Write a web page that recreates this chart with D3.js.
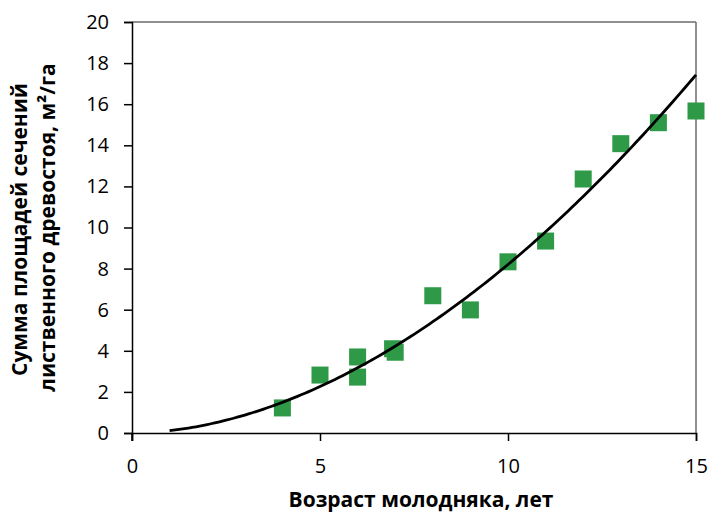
<!DOCTYPE html>
<html lang="ru">

<head>
    <meta charset="UTF-8">
    <title>Сумма площадей сечений</title>
    <script src="https://d3js.org/d3.v7.min.js"></script>
    <style>
        body {
            margin: 0;
            background: #fff;
            font-family: "Open Sans", sans-serif;
        }

        .tick text {
            font-size: 20px;
            fill: #000;
        }

        .axis-label {
            font-size: 21px;
            font-weight: bold;
        }
    </style>
</head>

<body>
    <div id="grafico"></div>

    <script>
        // возраст (лет) и сумма площадей сечений (м2/га)
        const vozrast = [4, 5, 6, 6, 6.93, 7, 8, 9, 10, 11, 12, 13, 14, 15];
        const summa = [1.22, 2.82, 3.70, 2.72, 4.10, 3.93, 6.68, 5.99, 8.33, 9.34, 12.36, 14.08, 15.1, 15.67];
        const xTicks = [0, 5, 10, 15];
        const yTicks = [0, 2, 4, 6, 8, 10, 12, 14, 16, 18, 20];

        const data = vozrast.map((v, i) => ({ x: v, y: summa[i] }));

        const margin = { top: 22, right: 13, bottom: 80, left: 132 },
            width = 709 - margin.left - margin.right,
            height = 513 - margin.top - margin.bottom;

        const svg = d3.select("#grafico").append("svg")
            .attr("width", 709)
            .attr("height", 513)
            .append("g")
            .attr("transform", `translate(${margin.left},${margin.top})`);

        const x = d3.scaleLinear().domain([0, 15]).range([0, width]);
        const y = d3.scaleLinear().domain([0, 20]).range([height, 0]);

        // степенная линия тренда (как в Excel): ln y = ln a + b ln x
        const lx = data.map(d => Math.log(d.x)), ly = data.map(d => Math.log(d.y));
        const mx = d3.mean(lx), my = d3.mean(ly);
        const b = d3.sum(lx, (v, i) => (v - mx) * (ly[i] - my)) / d3.sum(lx, v => (v - mx) * (v - mx));
        const a = Math.exp(my - b * mx);
        const trend = d3.range(1, 15.001, 0.1).map(t => ({ x: t, y: a * Math.pow(t, b) }));

        // рамка области построения
        svg.append("line")
            .attr("x1", 0).attr("x2", width).attr("y1", 0).attr("y2", 0)
            .attr("stroke", "#6b6b6b").attr("stroke-width", 1.5);
        svg.append("line")
            .attr("x1", width).attr("x2", width).attr("y1", 0).attr("y2", height)
            .attr("stroke", "#6b6b6b").attr("stroke-width", 1.5);

        const xAxis = svg.append("g")
            .attr("transform", `translate(0,${height})`)
            .call(d3.axisBottom(x).tickValues(xTicks).tickSizeOuter(0).tickSize(8).tickPadding(18));
        const yAxis = svg.append("g")
            .call(d3.axisLeft(y).tickValues(yTicks).tickSizeOuter(0).tickSize(8).tickPadding(15));

        [xAxis, yAxis].forEach(g => {
            g.select(".domain").attr("stroke", "#000").attr("stroke-width", 1.5);
            g.selectAll(".tick line").attr("stroke", "#000").attr("stroke-width", 1.5);
            g.selectAll(".tick text").style("font-family", "'Open Sans', sans-serif");
        });

        // y-ось продолжается вниз до метки 0 оси x
        svg.append("line")
            .attr("x1", 0).attr("x2", 0).attr("y1", height).attr("y2", height + 8)
            .attr("stroke", "#000").attr("stroke-width", 1.5);

        const sz = 17;
        svg.selectAll("rect.pt")
            .data(data)
            .enter().append("rect")
            .attr("class", "pt")
            .attr("x", d => x(d.x) - sz / 2)
            .attr("y", d => y(d.y) - sz / 2)
            .attr("width", sz)
            .attr("height", sz)
            .attr("fill", "#2e9a47");

        const linha = d3.line()
            .x(d => x(d.x))
            .y(d => y(d.y));

        svg.append("path")
            .datum(trend)
            .attr("d", linha)
            .attr("fill", "none")
            .attr("stroke", "#000")
            .attr("stroke-width", 2.8);

        svg.append("text")
            .attr("class", "axis-label")
            .attr("x", width / 2 + 7)
            .attr("y", height + 74)
            .attr("text-anchor", "middle")
            .text("Возраст молодняка, лет");

        const yl = svg.append("text")
            .attr("class", "axis-label")
            .attr("transform", "rotate(-90)")
            .attr("text-anchor", "middle");
        yl.append("tspan")
            .attr("x", -height / 2 - 2)
            .attr("y", -105)
            .text("Сумма площадей сечений");
        yl.append("tspan")
            .attr("x", -height / 2)
            .attr("y", -77)
            .text("лиственного древостоя, м²/га");
    </script>
</body>

</html>
